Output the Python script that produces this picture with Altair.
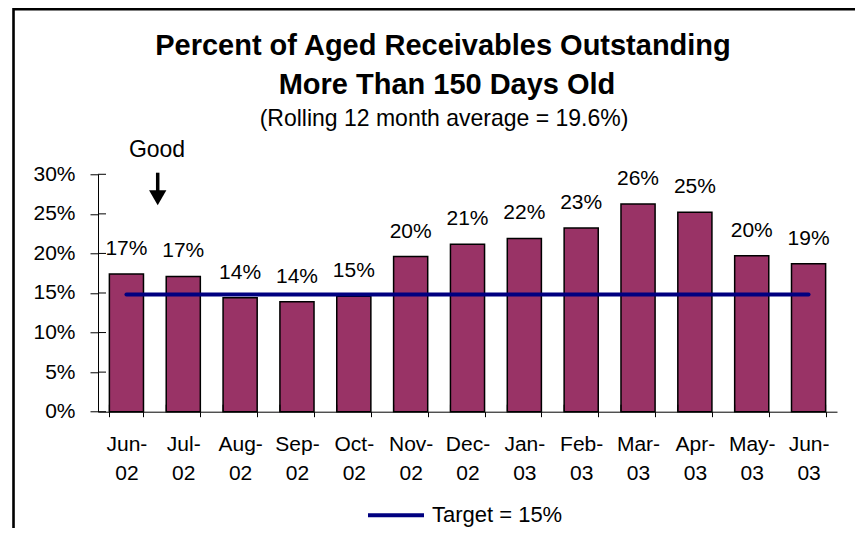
import altair as alt
import pandas as pd

# ---------------- data ----------------
months = ["Jun-02", "Jul-02", "Aug-02", "Sep-02", "Oct-02", "Nov-02", "Dec-02",
          "Jan-03", "Feb-03", "Mar-03", "Apr-03", "May-03", "Jun-03"]
pct_over_150 = [17.4, 17.1, 14.4, 13.9, 14.6, 19.6, 21.15, 21.9, 23.2, 26.25, 25.2, 19.7, 18.7]
target_value = 14.8
target_label = "Target = 15%"
y_tick_values = [0, 5, 10, 15, 20, 25, 30]

title_line1 = "Percent of Aged Receivables Outstanding"
title_line2 = "More Than 150 Days Old"
subtitle = "(Rolling 12 month average = 19.6%)"
good_text = "Good"

FONT = "Liberation Sans"
W, H = 739, 237.4

df = pd.DataFrame({"month": months, "value": pct_over_150})
df_target = pd.DataFrame({"month": months,
                          "target": [target_value] * len(months),
                          "series": [target_label] * len(months)})
df_ticks = pd.DataFrame({"t": y_tick_values})
one = pd.DataFrame({"k": [0]})

x_axis = alt.Axis(labelExpr="[slice(datum.label,0,4), slice(datum.label,4)]",
                  labelAngle=0, tickBand="extent", tickSize=5, labelPadding=17,
                  labelBaseline="top", labelLineHeight=29, labelFontSize=21,
                  labelFont=FONT, labelColor="black", domainColor="black",
                  tickColor="black", labelOverlap=False)
y_axis = alt.Axis(values=y_tick_values, labelExpr="datum.value + '%'",
                  tickSize=8, labelPadding=15, labelFontSize=21, labelFont=FONT,
                  labelColor="black", domainColor="black", tickColor="black",
                  grid=False, labelOverlap=False, tickCount=7)
x_scale = alt.Scale(paddingInner=0.4, paddingOuter=0.2)
y_scale = alt.Scale(domain=[0, 30], nice=False, zero=True)

def X(**kw):
    return alt.X("month:N", sort=months, title=None, scale=x_scale, axis=x_axis, **kw)

def Y(field):
    return alt.Y(field, title=None, scale=y_scale, axis=y_axis)

bars = alt.Chart(df).mark_bar(color="#993366", stroke="black", strokeWidth=1.5).encode(
    x=X(), y=Y("value:Q"))

labels = alt.Chart(df).transform_calculate(
    lab="format(datum.value, '.0f') + '%'"
).mark_text(dy=-19, baseline="alphabetic", fontSize=21, font=FONT, color="black").encode(
    x=X(), y=Y("value:Q"), text="lab:N"
)

target_line = alt.Chart(df_target).mark_line(strokeWidth=4, strokeCap="round").encode(
    x=X(), y=Y("target:Q"),
    color=alt.Color("series:N", scale=alt.Scale(range=["#000080"]),
                    legend=alt.Legend(orient="none", legendX=268, legendY=311, title=None,
                                      symbolType="stroke", symbolSize=3136,
                                      symbolStrokeWidth=4, labelFontSize=22, labelFont=FONT,
                                      labelColor="black", labelOffset=6)),
)

# inward halves of the crossing tick marks
y_in = alt.Chart(df_ticks).mark_rule(color="black", strokeWidth=1).encode(
    y=Y("t:Q"), x=alt.value(0), x2=alt.value(8))
x_in = alt.Chart(df).mark_rule(color="black", strokeWidth=1).encode(
    x=X(bandPosition=0), y=alt.value(H - 7), y2=alt.value(H))
x_in_last = alt.Chart(df.tail(1)).mark_rule(color="black", strokeWidth=1).encode(
    x=X(bandPosition=1), y=alt.value(H - 7), y2=alt.value(H))

frame = alt.Chart(one).mark_rect(fill=None, stroke="black", strokeWidth=2.6).encode(
    x=alt.value(-84.5), x2=alt.value(W + 200), y=alt.value(-165), y2=alt.value(H + 300))

def txt(s, x, y, size, bold=False):
    return alt.Chart(one).mark_text(text=s, align="center", baseline="alphabetic",
                                    fontSize=size, font=FONT, color="black",
                                    fontWeight="bold" if bold else "normal").encode(
        x=alt.value(x), y=alt.value(y))

t1 = txt(title_line1, 345, -119.3, 29, True)
t2 = txt(title_line2, 349, -80.3, 29, True)
t3 = txt(subtitle, 346, -48.5, 23)
good = txt(good_text, 59, -17.6, 23)

shaft = alt.Chart(one).mark_rule(color="black", strokeWidth=3.5).encode(
    x=alt.value(59.7), y=alt.value(-1.6), y2=alt.value(18))
head = alt.Chart(one).mark_point(shape="triangle-down", filled=True, size=300,
                                 color="black", opacity=1).encode(
    x=alt.value(59.7), y=alt.value(23.5))

chart = alt.layer(
    frame, bars, target_line, labels, y_in, x_in, x_in_last,
    t1, t2, t3, good, shaft, head
).properties(
    width=W, height=H,
    autosize=alt.AutoSizeParams(type="none"),
    padding={"left": 90, "top": 166.3, "right": 18, "bottom": 116},
    background="white",
).configure_view(stroke=None).configure_axis(grid=False, labelOverlap=False)

chart.save("out.html", embed_options={"renderer": "svg", "actions": False})
